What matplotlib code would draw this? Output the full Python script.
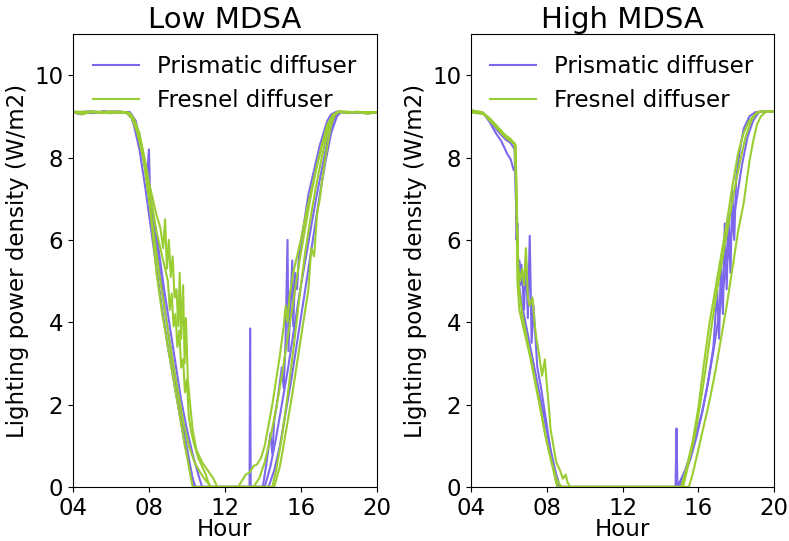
"""Lighting power density for prismatic vs fresnel diffusers, low/high MDSA."""
import matplotlib
matplotlib.use('Agg')
import matplotlib.pyplot as plt

plt.rcParams.update({
    'font.size': 16.5,
    'axes.titlesize': 21,
    'axes.labelsize': 16.5,
    'xtick.labelsize': 16.5,
    'ytick.labelsize': 16.5,
})

PRISM_COLOR = '#7B68EE'
FRESNEL_COLOR = '#9ACD32'

# ---- Low MDSA, prismatic diffuser (hour, W/m2) ----
low_p1_h = [4.0, 4.4, 4.8, 5.2, 5.6, 6.0, 6.4, 6.8, 7.1, 7.3, 7.5, 7.7, 7.9, 8.0, 8.05, 8.1,
            8.3, 8.5, 8.7, 8.9, 9.1, 9.3, 9.5, 9.7, 9.9, 10.1, 10.3, 10.45,
            13.3, 13.33, 13.36, 13.4, 14.0, 14.2, 14.4, 14.5, 14.6, 14.8, 15.0, 15.1, 15.2, 15.3,
            15.35, 15.45, 15.55, 15.6, 15.7, 15.8, 15.9, 16.0, 16.2, 16.4, 16.6, 16.8, 17.0,
            17.2, 17.4, 17.6, 17.8, 18.0, 18.5, 19.0, 19.5, 20.0]
low_p1_v = [9.1, 9.05, 9.12, 9.08, 9.13, 9.1, 9.12, 9.1, 8.95, 8.7, 8.4, 8.0, 7.5, 8.2, 7.3, 6.9,
            6.2, 5.5, 4.8, 4.1, 3.5, 2.9, 2.3, 1.7, 1.2, 0.7, 0.2, 0,
            0, 3.85, 0, 0, 0, 0.6, 1.3, 0.8, 1.6, 2.2, 2.9, 2.4, 3.6, 6.0,
            3.3, 4.4, 5.5, 3.9, 5.2, 4.8, 5.6, 5.9, 6.5, 7.1, 7.5, 7.9, 8.3,
            8.6, 8.9, 9.05, 9.1, 9.12, 9.08, 9.1, 9.07, 9.1]
low_p2_h = [4, 5, 6, 7, 7.2, 7.5, 7.8, 8.1, 8.4, 8.7, 9.0, 9.3, 9.6, 9.9, 10.2, 10.4,
            14.1, 14.4, 14.7, 15.0, 15.3, 15.6, 15.9, 16.2, 16.5, 16.8, 17.1, 17.4, 17.7, 18.0, 19, 20]
low_p2_v = [9.1, 9.12, 9.08, 9.1, 8.8, 8.2, 7.3, 6.3, 5.3, 4.3, 3.4, 2.6, 1.8, 1.0, 0.4, 0,
            0, 0.5, 1.2, 2.0, 2.8, 3.7, 4.6, 5.4, 6.2, 7.0, 7.7, 8.4, 8.9, 9.1, 9.1, 9.1]
low_p3_h = [4, 5, 6, 7, 7.3, 7.6, 7.9, 8.2, 8.5, 8.8, 9.1, 9.4, 9.7, 10.0, 10.3, 10.6, 10.8,
            14.3, 14.6, 14.9, 15.2, 15.5, 15.8, 16.1, 16.4, 16.7, 17.0, 17.3, 17.6, 17.9, 18.1, 19, 20]
low_p3_v = [9.1, 9.08, 9.12, 9.1, 8.9, 8.3, 7.6, 6.7, 5.8, 4.8, 3.9, 3.0, 2.1, 1.4, 0.8, 0.3, 0,
            0, 0.4, 1.0, 1.8, 2.6, 3.5, 4.4, 5.3, 6.2, 7.1, 7.9, 8.6, 9.0, 9.1, 9.1, 9.1]

# ---- Low MDSA, fresnel diffuser ----
low_f1_h = [4, 4.5, 5, 5.5, 6, 6.5, 7, 7.2, 7.5, 7.8, 8.0, 8.2, 8.4, 8.6, 8.75, 8.85, 8.95,
            9.05, 9.15, 9.25, 9.35, 9.45, 9.55, 9.62, 9.7, 9.8, 9.88, 9.95, 10.05, 10.15, 10.3,
            10.5, 10.8, 11.1, 11.4, 11.6,
            12.7, 12.9, 13.1, 13.3, 13.5, 13.7, 13.9, 14.1, 14.3, 14.5, 14.7, 14.9, 15.1, 15.2,
            15.3, 15.4, 15.6, 15.8, 16.0, 16.3, 16.6, 16.9, 17.2, 17.5, 17.8, 18.0, 18.5, 19,
            19.5, 20]
low_f1_v = [9.1, 9.05, 9.12, 9.08, 9.1, 9.12, 9.05, 8.9, 8.5, 7.9, 7.4, 7.0, 6.6, 6.3, 5.8, 6.5, 5.3,
            6.0, 5.1, 5.6, 4.6, 4.8, 3.9, 5.2, 3.6, 4.9, 3.0, 4.1, 2.6, 2.1, 1.4,
            0.9, 0.6, 0.4, 0.2, 0,
            0, 0.15, 0.3, 0.35, 0.5, 0.55, 0.7, 1.0, 1.5, 2.0, 2.6, 3.2, 3.9, 4.4,
            4.0, 4.6, 5.2, 5.6, 6.0, 6.7, 7.3, 7.9, 8.4, 8.8, 9.05, 9.12, 9.08, 9.12,
            9.06, 9.1]
low_f2_h = [4, 5, 6, 6.8, 7.1, 7.4, 7.7, 8.0, 8.3, 8.6, 8.9, 9.2, 9.5, 9.8, 10.1, 10.4, 10.7,
            11.0, 11.3, 13.5, 13.8, 14.1, 14.4, 14.7, 15.0, 15.3, 15.6, 15.9, 16.2, 16.5, 16.8,
            17.1, 17.4, 17.7, 18.0, 19, 20]
low_f2_v = [9.12, 9.1, 9.08, 9.1, 8.95, 8.6, 8.0, 7.0, 6.0, 5.0, 4.1, 3.2, 2.4, 1.6, 1.0, 0.6, 0.35,
            0.15, 0, 0, 0.2, 0.6, 1.2, 1.9, 2.7, 3.6, 4.5, 5.4, 6.2, 7.0, 7.7,
            8.3, 8.8, 9.05, 9.12, 9.1, 9.1]
low_f3_h = [4, 5, 6, 7, 7.2, 7.5, 7.8, 8.1, 8.4, 8.6, 8.8, 9.0, 9.1, 9.2, 9.3, 9.4, 9.5, 9.6,
            9.7, 9.8, 9.9, 10.0, 10.1, 10.2, 10.4, 10.6, 10.8, 11.0, 11.2,
            14.6, 14.9, 15.2, 15.5, 15.8, 16.1, 16.4, 16.55, 16.7, 16.85, 17.0, 17.2, 17.4,
            17.6, 17.8, 18.0, 19, 20]
low_f3_v = [9.1, 9.12, 9.1, 9.08, 8.95, 8.6, 7.9, 7.0, 6.2, 5.8, 5.4, 5.0, 4.3, 4.7, 3.9, 4.2, 3.4, 3.8,
            2.9, 3.1, 2.3, 2.6, 1.7, 1.4, 1.0, 0.7, 0.5, 0.3, 0,
            0, 0.5, 1.3, 2.1, 3.0, 3.9, 4.8, 5.8, 5.6, 6.6, 7.0, 7.7, 8.3,
            8.8, 9.05, 9.1, 9.1, 9.1]
low_f4_h = [4, 5, 6, 6.9, 7.2, 7.5, 7.8, 8.1, 8.4, 8.7, 9.0, 9.3, 9.6, 9.9, 10.1, 10.3,
            14.5, 14.7, 15.0, 15.3, 15.6, 15.9, 16.2, 16.5, 16.8, 17.1, 17.4, 17.7, 18.0, 19, 20]
low_f4_v = [9.1, 9.1, 9.12, 9.1, 8.9, 8.4, 7.8, 6.6, 5.2, 4.2, 3.4, 2.6, 1.8, 1.0, 0.5, 0,
            0, 0.4, 1.2, 2.2, 3.3, 4.5, 5.6, 6.5, 7.3, 8.0, 8.6, 9.0, 9.12, 9.1, 9.1]

# ---- High MDSA, prismatic diffuser ----
high_p1_h = [4, 4.5, 4.7, 5.0, 5.3, 5.6, 5.9, 6.1, 6.25, 6.35, 6.4, 6.45, 6.5, 6.55, 6.6, 6.65,
             6.7, 6.8, 6.9, 7.0, 7.1, 7.2, 7.3, 7.5, 7.7, 7.9, 8.1, 8.3, 8.5, 8.7,
             14.8, 14.85, 14.9, 15.0, 15.3, 15.6, 15.9, 16.2, 16.5, 16.8, 17.0, 17.1, 17.2, 17.3,
             17.4, 17.5, 17.6, 17.7, 17.8, 17.9, 18.0, 18.2, 18.4, 18.7, 19.0, 19.3, 20]
high_p1_v = [9.1, 9.1, 9.05, 8.85, 8.6, 8.4, 8.1, 7.95, 7.7, 7.8, 6.0, 6.4, 5.1, 5.5, 4.9, 5.4,
             5.1, 4.3, 5.6, 4.1, 6.1, 3.5, 4.4, 2.9, 2.4, 1.8, 1.2, 0.6, 0.1, 0,
             0, 1.42, 0, 0.1, 0.4, 0.8, 1.3, 1.8, 2.5, 3.4, 4.8, 3.6, 5.5, 4.2,
             6.4, 4.8, 6.6, 5.2, 7.2, 6.0, 7.5, 8.2, 8.7, 9.0, 9.1, 9.12, 9.12]
high_p2_h = [4, 4.6, 5.0, 5.4, 5.8, 6.1, 6.3, 6.4, 6.5, 6.7, 7.0, 7.3, 7.6, 7.9, 8.2, 8.5, 8.7,
             15.0, 15.3, 15.6, 15.9, 16.2, 16.5, 16.8, 17.1, 17.4, 17.7, 18.0, 18.3, 18.6, 18.9,
             19.2, 19.5, 20]
high_p2_v = [9.12, 9.1, 8.9, 8.65, 8.45, 8.35, 8.2, 6.5, 5.0, 4.4, 3.7, 3.0, 2.3, 1.6, 0.9, 0.3, 0,
             0, 0.3, 0.7, 1.2, 1.8, 2.5, 3.3, 4.2, 5.1, 6.0, 6.9, 7.8, 8.5, 8.9,
             9.1, 9.12, 9.12]

# ---- High MDSA, fresnel diffuser ----
high_f1_h = [4, 4.6, 5.0, 5.4, 5.8, 6.1, 6.35, 6.42, 6.5, 6.7, 7.0, 7.3, 7.6, 7.9, 8.2, 8.5, 8.7, 8.8,
             15.2, 15.5, 15.8, 16.1, 16.4, 16.7, 17.0, 17.3, 17.6, 17.9, 18.2, 18.5, 18.8, 19.1,
             19.4, 20]
high_f1_v = [9.15, 9.1, 8.95, 8.75, 8.55, 8.45, 8.3, 6.5, 5.0, 4.2, 3.5, 2.8, 2.1, 1.3, 0.7, 0.2, 0.05, 0,
             0, 0.6, 1.2, 2.0, 2.9, 3.9, 4.8, 5.6, 6.4, 7.2, 7.9, 8.5, 8.9, 9.1,
             9.12, 9.12]
high_f2_h = [4, 4.6, 5.0, 5.4, 5.8, 6.1, 6.35, 6.42, 6.5, 6.6, 6.7, 6.8, 6.9, 7.0, 7.1, 7.25,
             7.35, 7.45, 7.6, 7.75, 7.9, 8.0, 8.1, 8.2, 8.35, 8.5, 8.7, 8.85, 9.0, 9.1, 9.25,
             15.1, 15.4, 15.7, 16.0, 16.3, 16.6, 16.9, 17.2, 17.5, 17.8, 18.1, 18.4, 18.7, 19.0,
             19.3, 20]
high_f2_v = [9.15, 9.1, 8.9, 8.7, 8.5, 8.4, 8.3, 6.8, 5.3, 5.0, 5.3, 4.9, 5.8, 4.6, 4.4, 4.6,
             4.0, 3.6, 3.2, 2.7, 3.1, 2.5, 2.0, 1.4, 1.0, 0.6, 0.4, 0.2, 0.3, 0.1, 0,
             0, 0.5, 1.1, 1.9, 3.0, 4.0, 4.8, 5.6, 6.4, 7.3, 8.1, 8.6, 8.9, 9.05,
             9.12, 9.12]
high_f3_h = [4, 4.7, 5.2, 5.7, 6.1, 6.3, 6.4, 6.45, 6.55, 6.8, 7.1, 7.4, 7.7, 8.0, 8.3, 8.55,
             15.5, 15.7, 16.0, 16.3, 16.6, 16.9, 17.2, 17.5, 17.8, 18.1, 18.4, 18.7, 18.9, 19.1,
             19.3, 19.6, 20]
high_f3_v = [9.1, 9.05, 8.8, 8.55, 8.4, 8.35, 7.0, 5.0, 4.3, 3.8, 3.2, 2.5, 1.8, 1.1, 0.5, 0,
             0, 0.3, 0.9, 1.5, 2.1, 2.8, 3.6, 4.4, 5.3, 6.2, 6.9, 7.9, 8.4, 8.8,
             9.0, 9.12, 9.12]

x_ticks = [4, 8, 12, 16, 20]
x_ticklabels = ['04', '08', '12', '16', '20']

panels = [
    ('Low MDSA',
     [(low_p1_h, low_p1_v), (low_p2_h, low_p2_v), (low_p3_h, low_p3_v)],
     [(low_f1_h, low_f1_v), (low_f2_h, low_f2_v), (low_f3_h, low_f3_v), (low_f4_h, low_f4_v)]),
    ('High MDSA',
     [(high_p1_h, high_p1_v), (high_p2_h, high_p2_v)],
     [(high_f1_h, high_f1_v), (high_f2_h, high_f2_v), (high_f3_h, high_f3_v)]),
]

fig = plt.figure(figsize=(7.89, 5.41), dpi=100)
axes = [fig.add_axes([0.0925, 0.100, 0.385, 0.837]),
        fig.add_axes([0.597, 0.100, 0.384, 0.837])]

for ax, (title, prism, fresnel) in zip(axes, panels):
    for i, (h, v) in enumerate(prism):
        ax.plot(h, v, color=PRISM_COLOR, linewidth=1.5,
                label='Prismatic diffuser' if i == 0 else None)
    for i, (h, v) in enumerate(fresnel):
        ax.plot(h, v, color=FRESNEL_COLOR, linewidth=1.5,
                label='Fresnel diffuser' if i == 0 else None)
    ax.set_xlim(4, 20)
    ax.set_ylim(0, 11)
    ax.set_xticks(x_ticks)
    ax.set_xticklabels(x_ticklabels)
    ax.set_yticks([0, 2, 4, 6, 8, 10])
    ax.set_title(title, pad=2)
    ax.set_xlabel('Hour', labelpad=-1)
    ax.set_ylabel('Lighting power density (W/m2)')
    ax.legend(loc='upper right', frameon=False, fontsize=16.5)

fig.savefig('out.png', dpi=100)
